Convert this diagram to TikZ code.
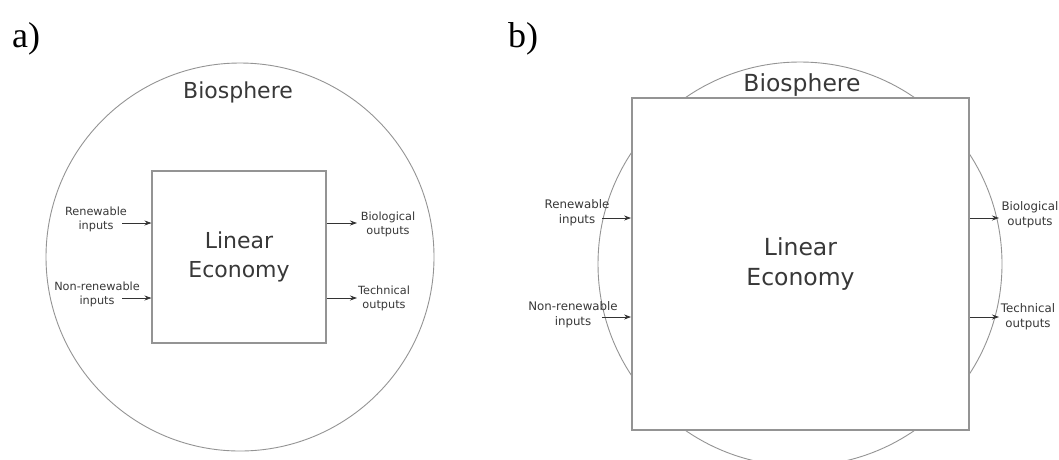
\documentclass[tikz,border=0pt]{standalone}
\usepackage{fontspec}
\setmainfont{Liberation Serif}
\newfontfamily\diagfont{DejaVu Sans}
\usetikzlibrary{arrows.meta}
\begin{document}
\begin{tikzpicture}[x=1pt,y=-1pt,
  paneltag/.style={font=\fontsize{36}{40}\selectfont, text=black, inner sep=0, anchor=base west},
  sphere/.style={circle, draw=black!42, line width=0.9pt, inner sep=0},
  econ/.style={rectangle, draw=black!42, fill=white, inner sep=0, align=center,
               text=black!78, font=\diagfont\fontsize{22}{29}\selectfont},
  sphlabel/.style={text=black!78, inner sep=0, font=\diagfont\fontsize{22}{26}\selectfont},
  small/.style={font=\diagfont\fontsize{11.3}{14}\selectfont, text=black!78, align=center, inner sep=0},
  flow/.style={draw=black!80, line width=0.8pt, -{Stealth[length=7pt,width=5pt]}},
]
\path[use as bounding box] (0,0) rectangle (1059,459);
\clip (0,0) rectangle (1059,459);
\fill[white] (0,0) rectangle (1059,459);

% ---------- panel a ----------
\node[paneltag] (taga) at (12,47) {a)};
\node[sphere, minimum size=388pt] (bioa) at (240,257) {};
\node[econ, line width=1.1pt, minimum width=174pt, minimum height=172pt] (econa) at (239,257) {Linear\\Economy};
\node[sphlabel] (biolaba) at (238,92) {Biosphere};

\node[small] (rena) at (96,219) {Renewable\\inputs};
\node[small] (nrena) at (97,294) {Non-renewable\\inputs};
\node[small] (bouta) at (388,224) {Biological\\outputs};
\node[small] (touta) at (384,298) {Technical\\outputs};

\coordinate (rena-s) at (122,223);
\coordinate (nrena-s) at (122,298);
\coordinate (bouta-e) at (357,223);
\coordinate (touta-e) at (357,298);
\draw[flow] (rena-s) -- (rena-s -| econa.west);
\draw[flow] (nrena-s) -- (nrena-s -| econa.west);
\draw[flow] (bouta-e -| econa.east) -- (bouta-e);
\draw[flow] (touta-e -| econa.east) -- (touta-e);

% ---------- panel b ----------
\node[paneltag] (tagb) at (508,47) {b)};
\node[sphere, minimum size=404pt] (biob) at (800,264) {};
\node[econ, line width=1.8pt, minimum width=337pt, minimum height=332pt,
      font=\diagfont\fontsize{23.5}{30}\selectfont] (econb) at (800.5,264) {Linear\\Economy};
\node[sphlabel, font=\diagfont\fontsize{23.5}{28}\selectfont] (biolabb) at (802,85) {Biosphere};

\node[small, font=\diagfont\fontsize{11.8}{15}\selectfont] (renb) at (577,213) {Renewable\\inputs};
\node[small, font=\diagfont\fontsize{11.8}{15}\selectfont] (nrenb) at (573,315) {Non-renewable\\inputs};
\node[small, font=\diagfont\fontsize{11.8}{15}\selectfont] (boutb) at (1030,215) {Biological\\outputs};
\node[small, font=\diagfont\fontsize{11.8}{15}\selectfont] (toutb) at (1028,317) {Technical\\outputs};

\coordinate (renb-s) at (602,218);
\coordinate (nrenb-s) at (602,317);
\coordinate (boutb-e) at (999,218);
\coordinate (toutb-e) at (999,317);
\draw[flow] (renb-s) -- (renb-s -| econb.west);
\draw[flow] (nrenb-s) -- (nrenb-s -| econb.west);
\draw[flow] (boutb-e -| econb.east) -- (boutb-e);
\draw[flow] (toutb-e -| econb.east) -- (toutb-e);
\end{tikzpicture}
\end{document}
